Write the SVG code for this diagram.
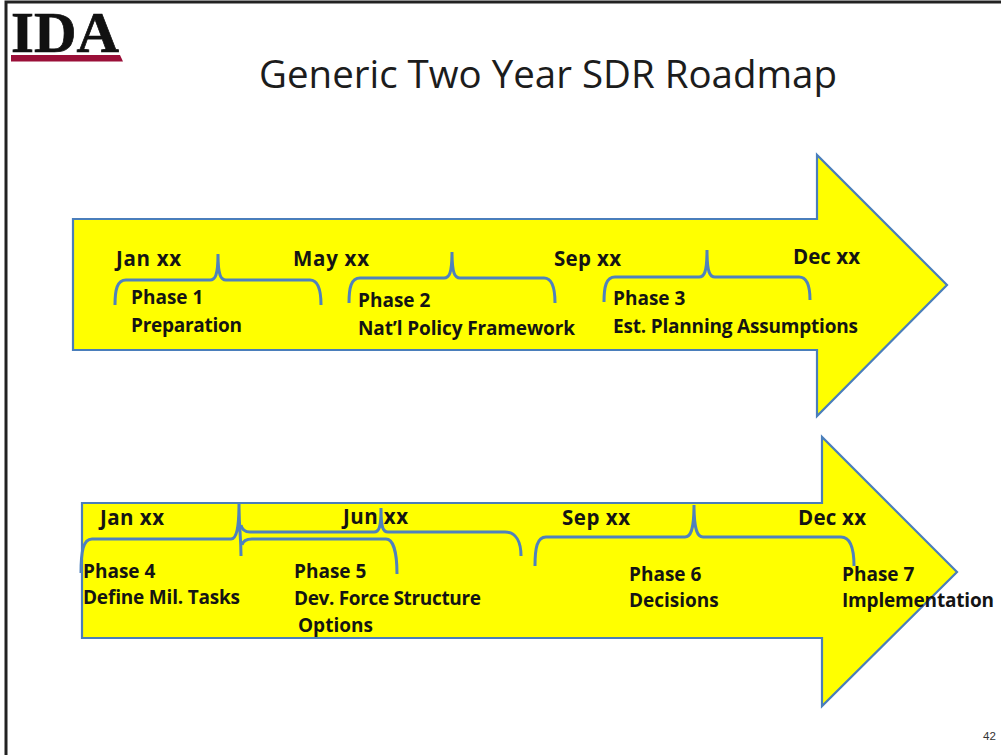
<svg xmlns="http://www.w3.org/2000/svg" width="1001" height="755" viewBox="0 0 1001 755">
<style>
.arrow{fill:#ffff00;stroke:#4a7ebb;stroke-width:2.2}
.b{fill:none;stroke:#4f81bd;stroke-width:3}
.t{font-family:"Open Sans","Noto Sans","Liberation Sans",sans-serif;font-weight:700;font-size:19px;fill:#141414}
.d{font-family:"Open Sans","Noto Sans","Liberation Sans",sans-serif;font-weight:700;font-size:20.500px;fill:#141414}
</style>
<rect x="0" y="0" width="1001" height="755" fill="#ffffff"/>
<path d="M6 755V2H1001" fill="none" stroke="#222222" stroke-width="3"/>
<g id="logo">
<text x="11" y="52" font-family="Liberation Serif,serif" font-weight="700" font-size="58" textLength="108" lengthAdjust="spacingAndGlyphs" fill="#111111" stroke="#111111" stroke-width="0.700">IDA</text>
<path d="M11 55H120L123 61.500H11Z" fill="#9a0f38"/>
</g>
<g id="title"><text x="259" y="88" font-family="Open Sans,Noto Sans,Liberation Sans,sans-serif" font-size="38.500" textLength="578" lengthAdjust="spacingAndGlyphs" fill="#1c1c1c">Generic Two Year SDR Roadmap</text></g>
<g id="arrow-1"><path class="arrow" d="M73 219H817V155L947 285L817 416V350H73Z"/></g>
<g id="arrow-2"><path class="arrow" d="M82 503H822V437L957 572L822 706V638H82Z"/></g>
<g id="connectors">
<path class="b" d="M115 305C115 290 117 280 126 280H210C215 280 218 276 218 254C218 276 221 280 226 280H310C318 280 321 290 321 305"/>
<path class="b" d="M349 303C349 288 351 278 360 278H444C449 278 452 274 452 252C452 274 455 278 460 278H544C552 278 555 288 555 303"/>
<path class="b" d="M604 302C604 287 606 277 615 277H699C704 277 707 273 707 250C707 273 710 277 715 277H799C807 277 810 287 810 300"/>
<path class="b" d="M81 573C81 552 83 539 92 539H231C236 539 239 530 239 503C239 530 241 535 241 556"/>
<path class="b" d="M242 545C243 541 246 539 252 539H386C393 539 397 552 397 574"/>
<path class="b" d="M241 525C242 530 245 532 250 532H374C379 532 381 528 381 508C381 528 383 532 388 532H505C516 532 521 542 521 556"/>
<path class="b" d="M535 566C535 548 537 537 546 537H685C690 537 694 532 694 505C694 532 698 537 703 537H841C850 537 854 548 854 566"/>
</g>
<g id="labels-1">
<text class="d" x="116" y="266" textLength="65">Jan xx</text>
<text class="d" x="293" y="266" textLength="76">May xx</text>
<text class="d" x="554" y="266" textLength="67">Sep xx</text>
<text class="d" x="793" y="264" textLength="67">Dec xx</text>
<text class="t" x="131" y="304">Phase 1</text>
<text class="t" x="131" y="332" textLength="111">Preparation</text>
<text class="t" x="358" y="307">Phase 2</text>
<text class="t" x="358" y="335" textLength="217">Nat’l Policy Framework</text>
<text class="t" x="613" y="305">Phase 3</text>
<text class="t" x="613" y="333" textLength="245">Est. Planning Assumptions</text>
</g>
<g id="labels-2">
<text class="d" x="100" y="525" textLength="64">Jan xx</text>
<text class="d" x="343" y="524" textLength="65">Jun xx</text>
<text class="d" x="562" y="525" textLength="68">Sep xx</text>
<text class="d" x="798" y="525" textLength="68">Dec xx</text>
<text class="t" x="83" y="578">Phase 4</text>
<text class="t" x="83" y="604" textLength="157">Define Mil. Tasks</text>
<text class="t" x="294" y="578">Phase 5</text>
<text class="t" x="294" y="605" textLength="187">Dev. Force Structure</text>
<text class="t" x="298" y="632">Options</text>
<text class="t" x="629" y="581">Phase 6</text>
<text class="t" x="629" y="607">Decisions</text>
<text class="t" x="842" y="581">Phase 7</text>
<text class="t" x="842" y="607" textLength="152">Implementation</text>
</g>
<g id="page"><text x="983" y="740" font-family="Liberation Sans,sans-serif" font-size="11.500" fill="#333333">42</text></g>
</svg>
